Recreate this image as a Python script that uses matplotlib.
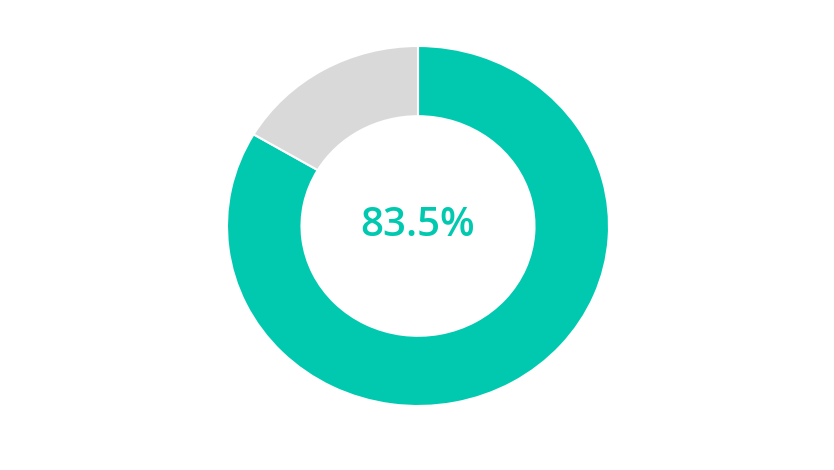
import matplotlib.pyplot as plt

# Data
labels = ['Done', 'Remaining']
values = [83.5, 16.5]
colors = ['#00C9B0', '#D9D9D9']
center_label = '83.5%'

fig = plt.figure(figsize=(8.34, 4.70), dpi=100)

# the reference donut is slightly wider than tall, so use an auto aspect axes
cx, cy = 418, 226
rx, ry = 191, 180
ax = fig.add_axes([(cx - rx) / 834, (470 - (cy + ry)) / 470, 2 * rx / 834, 2 * ry / 470])

ax.pie(values, colors=colors, startangle=90, counterclock=False, radius=1,
       wedgeprops=dict(width=0.39, edgecolor='white', linewidth=1.5))
ax.set_xlim(-1, 1)
ax.set_ylim(-1, 1)
ax.set_aspect('auto')
ax.axis('off')

ax.text(0, 0.0, center_label, ha='center', va='center', fontsize=29,
        fontweight='semibold', color=colors[0], family=['Open Sans', 'DejaVu Sans'])

plt.savefig('out.png', dpi=100)
plt.close()
